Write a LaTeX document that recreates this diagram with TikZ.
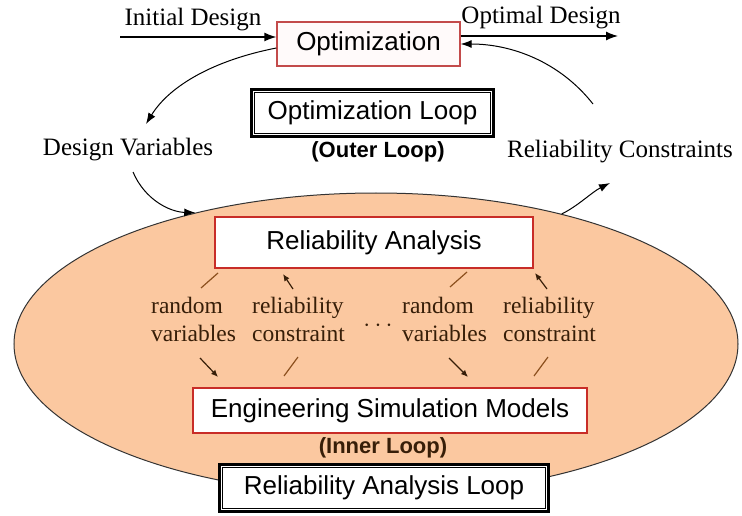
\documentclass[tikz,border=0pt]{standalone}
\usepackage{fontspec}
\setmainfont{Liberation Serif}
\setsansfont{Liberation Sans}
\usetikzlibrary{arrows.meta,shapes.geometric}
\definecolor{peach}{RGB}{251,200,160}
\definecolor{boxred}{RGB}{200,45,40}
\definecolor{optred}{RGB}{195,75,75}
\definecolor{inbrown}{RGB}{55,30,8}
\definecolor{slashc}{RGB}{140,80,30}
\begin{document}
\begin{tikzpicture}[x=1pt,y=-1pt,
  sflab/.style={font=\sffamily\fontsize{26}{28}\selectfont},
  rmlab/.style={font=\rmfamily\fontsize{25}{27}\selectfont, inner sep=0},
  inlab/.style={font=\rmfamily\fontsize{23.5}{28}\selectfont, text=inbrown, align=left, anchor=west, inner sep=0},
  redbox/.style={sflab, draw=boxred, line width=2pt, fill=white, inner sep=0},
  dblbox/.style={sflab, draw=black, line width=3pt, fill=white, inner sep=0},
  loopnote/.style={font=\sffamily\bfseries\fontsize{22}{24}\selectfont, inner sep=0},
  bigarrow/.style={-{Latex[length=12pt,width=9pt]}, line width=1.3pt},
  curvearrow/.style={-{Latex[length=11pt,width=8pt]}, line width=1pt},
  tinyarrow/.style={-{Latex[length=7pt,width=6pt]}, line width=1.2pt, draw=inbrown},
  tickline/.style={line width=1.2pt, draw=slashc}
]
\useasboundingbox (0,0) rectangle (742,516);

% ellipse (inner loop region)
\node[ellipse, draw=black!80, line width=1pt, fill=peach, minimum width=724, minimum height=302, inner sep=0] (ell) at (376,344) {};

% top part
\node[redbox, line width=1.3pt, draw=optred, fill=red!2, minimum width=183, minimum height=44] (opt) at (368.5,44) {Optimization};
\node[rmlab] (init) at (193,20) {Initial Design};
\node[rmlab] (optd) at (541,18) {Optimal Design};
\coordinate (inA) at (120,37);
\coordinate (outA) at (618,36);
\draw[bigarrow] (inA) -- (inA -| opt.west);
\draw[bigarrow] (outA -| opt.east) -- (outA);

\node[dblbox, minimum width=242, minimum height=47] (ol) at (372.5,113) {Optimization Loop};
\draw[line width=1.2pt] ([shift={(4.5pt,-4.5pt)}]ol.north west) rectangle ([shift={(-4.5pt,4.5pt)}]ol.south east);
\node[loopnote] (outer) at (378,152) {(Outer Loop)};

\node[rmlab] (dv) at (128,150) {Design Variables};
\node[rmlab] (rc) at (620,152) {Reliability Constraints};

\coordinate (dvtop) at (146,124);
\coordinate (rctail) at (593,104);
\coordinate (dvtail) at (133,172);
\coordinate (rchead) at (610,183);
\draw[curvearrow] ([yshift=-4pt]opt.west) .. controls (215,60) and (170,85) .. (dvtop);
\draw[curvearrow] (rctail) .. controls (560,62) and (512,44) .. (opt.east);
\draw[curvearrow] (dvtail) .. controls (145,200) and (170,212) .. (ell.144);
\draw[curvearrow] (ell.35) .. controls (578,206) and (592,192) .. (rchead);

% inner loop
\node[redbox, minimum width=318, minimum height=51] (ra) at (374,242.5) {Reliability Analysis};
\node[redbox, minimum width=394, minimum height=45] (esm) at (390,410.5) {Engineering Simulation Models};

\node[inlab] (rv1) at (151,319) {random\\variables};
\node[inlab] (rc1) at (252,319) {reliability\\constraint};
\node[inlab] (rv2) at (402,319) {random\\variables};
\node[inlab] (rc2) at (503,319) {reliability\\constraint};
\node[font=\rmfamily\fontsize{23.5}{28}\selectfont, text=inbrown, inner sep=0] (dots) at (378,326) {$\cdots$};

\coordinate (a1s) at (218,273); \coordinate (a1e) at (201,288);
\coordinate (a2s) at (293,289); \coordinate (a2e) at (283,274);
\coordinate (a3s) at (467,272); \coordinate (a3e) at (450,287);
\coordinate (a4s) at (547,289); \coordinate (a4e) at (535,273);
\coordinate (b1s) at (200,358); \coordinate (b1e) at (218,377);
\coordinate (b2s) at (298,357); \coordinate (b2e) at (284,376);
\coordinate (b3s) at (449,358); \coordinate (b3e) at (468,377);
\coordinate (b4s) at (548,357); \coordinate (b4e) at (534,376);
\draw[tickline] (a1s) -- (a1e);
\draw[tinyarrow] (a2s) -- (a2e);
\draw[tickline] (a3s) -- (a3e);
\draw[tinyarrow] (a4s) -- (a4e);
\draw[tinyarrow] (b1s) -- (b1e);
\draw[tickline] (b2s) -- (b2e);
\draw[tinyarrow] (b3s) -- (b3e);
\draw[tickline] (b4s) -- (b4e);

\node[loopnote, text=inbrown] (inner) at (383,448) {(Inner Loop)};
\node[dblbox, minimum width=329, minimum height=47] (ral) at (384,488) {Reliability Analysis Loop};
\draw[line width=1.2pt] ([shift={(4.5pt,-4.5pt)}]ral.north west) rectangle ([shift={(-4.5pt,4.5pt)}]ral.south east);
\end{tikzpicture}
\end{document}
